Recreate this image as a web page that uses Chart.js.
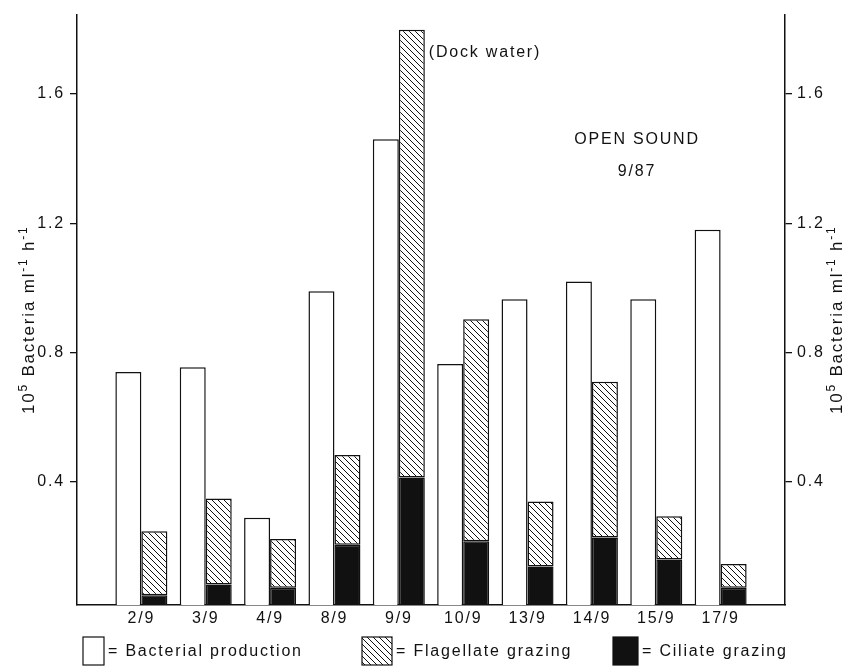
<!DOCTYPE html>
<html>
<head>
<meta charset="utf-8">
<script src="https://cdn.jsdelivr.net/npm/chart.js@4"></script>
<style>
  html, body { margin: 0; padding: 0; background: #fff; }
  #wrap { width: 859px; height: 670px; position: relative; }
</style>
</head>
<body>
<div id="wrap"><canvas id="grazingChart"></canvas></div>
<script>
// values (10^5 bacteria ml-1 h-1)
const dates = ["2/9", "3/9", "4/9", "8/9", "9/9", "10/9", "13/9", "14/9", "15/9", "17/9"];
const bacterialProduction = [0.74, 0.755, 0.29, 0.99, 1.46, 0.765, 0.965, 1.02, 0.965, 1.18];
const ciliateGrazing = [0.05, 0.083, 0.073, 0.206, 0.414, 0.217, 0.139, 0.229, 0.161, 0.073];
const flagellateGrazing = [0.198, 0.266, 0.151, 0.278, 1.384, 0.686, 0.201, 0.481, 0.133, 0.074];
const yTicks = [0.4, 0.8, 1.2, 1.6];

const INK = "#111";
const FONT = "'Liberation Sans', Arial, Helvetica, sans-serif";

// one empty slot on each side of the dates, like the original axis
const labels = [""].concat(dates, [""]);
const pad = (arr) => [null].concat(arr, [null]);

function makeHatch() {
  const s = 6;
  const c = document.createElement("canvas");
  c.width = s;
  c.height = s;
  const g = c.getContext("2d");
  g.fillStyle = "#fff";
  g.fillRect(0, 0, s, s);
  g.strokeStyle = INK;
  g.lineWidth = 1;
  g.beginPath();
  g.moveTo(0, 0); g.lineTo(s, s);
  g.moveTo(-1, s - 1); g.lineTo(1, s + 1);
  g.moveTo(s - 1, -1); g.lineTo(s + 1, 1);
  g.stroke();
  return g.createPattern(c, "repeat");
}
const hatch = makeHatch();

function drawAxisTitle(ctx, x, yMid) {
  const parts = [["10", false], ["5", true], [" Bacteria ml", false], ["-1", true], [" h", false], ["-1", true]];
  const main = "17px " + FONT;
  const sup = "12px " + FONT;
  ctx.save();
  ctx.translate(x, yMid);
  ctx.rotate(-Math.PI / 2);
  ctx.fillStyle = INK;
  ctx.textAlign = "left";
  ctx.textBaseline = "alphabetic";
  let total = 0;
  parts.forEach(([t, s]) => { ctx.font = s ? sup : main; total += ctx.measureText(t).width; });
  let cx = -total / 2;
  parts.forEach(([t, s]) => {
    ctx.font = s ? sup : main;
    ctx.fillText(t, cx, s ? -7 : 0);
    cx += ctx.measureText(t).width;
  });
  ctx.restore();
}

const decorations = {
  id: "decorations",
  beforeUpdate(chart) { chart.ctx.letterSpacing = "1.8px"; },
  beforeDraw(chart) { chart.ctx.letterSpacing = "1.8px"; },
  afterDraw(chart) {
    const { ctx, chartArea } = chart;
    const yMid = (chartArea.top + chartArea.bottom) / 2 + 10;
    drawAxisTitle(ctx, 34, yMid);
    drawAxisTitle(ctx, 842, yMid);

    ctx.save();
    ctx.fillStyle = INK;
    ctx.font = "16px " + FONT;
    ctx.textBaseline = "middle";

    // note beside the tall 9/9 grazing bar
    const dock = chart.getDatasetMeta(2).data[5];
    ctx.textAlign = "left";
    ctx.fillText("(Dock water)", dock.x + dock.width / 2 + 4, 53);

    ctx.textAlign = "center";
    ctx.fillText("OPEN SOUND", 637, 140);
    ctx.fillText("9/87", 637, 172);

    // legend row
    const items = [
      { ds: 0, x: 83, w: 21 },
      { ds: 2, x: 362, w: 30 },
      { ds: 1, x: 613, w: 25 }
    ];
    ctx.textAlign = "left";
    items.forEach((it) => {
      const ds = chart.data.datasets[it.ds];
      ctx.fillStyle = ds.backgroundColor;
      ctx.fillRect(it.x, 637, it.w, 28);
      ctx.lineWidth = 1.2;
      ctx.strokeStyle = INK;
      ctx.strokeRect(it.x, 637, it.w, 28);
      ctx.fillStyle = INK;
      ctx.fillText("= " + ds.label, it.x + it.w + 4, 652);
    });
    ctx.restore();
  }
};

const tickFont = { family: FONT, size: 16 };
const yAxis = (position, width) => ({
  position: position,
  stacked: true,
  min: 0.02,
  max: 1.845,
  afterBuildTicks: (scale) => { scale.ticks = yTicks.map((v) => ({ value: v })); },
  afterFit: (scale) => { scale.width = width; },
  grid: { drawOnChartArea: false, tickLength: 7, color: INK, lineWidth: 1.3 },
  border: { color: INK, width: 1.5 },
  ticks: { color: INK, font: tickFont, padding: 5, callback: (v) => Number(v).toFixed(1) }
});

const ctx = document.getElementById("grazingChart").getContext("2d");
const grazingChart = new Chart(ctx, {
  type: "bar",
  data: {
    labels: labels,
    datasets: [
      {
        label: "Bacterial production",
        data: pad(bacterialProduction),
        stack: "production",
        backgroundColor: "#fff",
        borderColor: INK,
        borderWidth: 1.5,
        borderSkipped: false
      },
      {
        label: "Ciliate grazing",
        data: pad(ciliateGrazing),
        stack: "grazing",
        backgroundColor: INK,
        borderColor: INK,
        borderWidth: 1.5,
        borderSkipped: false
      },
      {
        label: "Flagellate grazing",
        data: pad(flagellateGrazing),
        stack: "grazing",
        backgroundColor: hatch,
        borderColor: INK,
        borderWidth: 1.5,
        borderSkipped: false
      }
    ]
  },
  options: {
    responsive: true,
    maintainAspectRatio: false,
    animation: false,
    layout: { padding: { top: 12, bottom: 35, left: 0, right: 0 } },
    datasets: { bar: { categoryPercentage: 0.808, barPercentage: 1 } },
    plugins: { legend: { display: false }, tooltip: { enabled: false } },
    scales: {
      x: {
        stacked: true,
        offset: false,
        afterFit: (scale) => { scale.height = 30; },
        grid: { display: false, drawTicks: false },
        border: { color: INK, width: 1.5 },
        ticks: { color: INK, font: tickFont, padding: 4, autoSkip: false, maxRotation: 0 }
      },
      y: yAxis("left", 77),
      y2: yAxis("right", 74)
    }
  },
  plugins: [decorations]
});
</script>
</body>
</html>
